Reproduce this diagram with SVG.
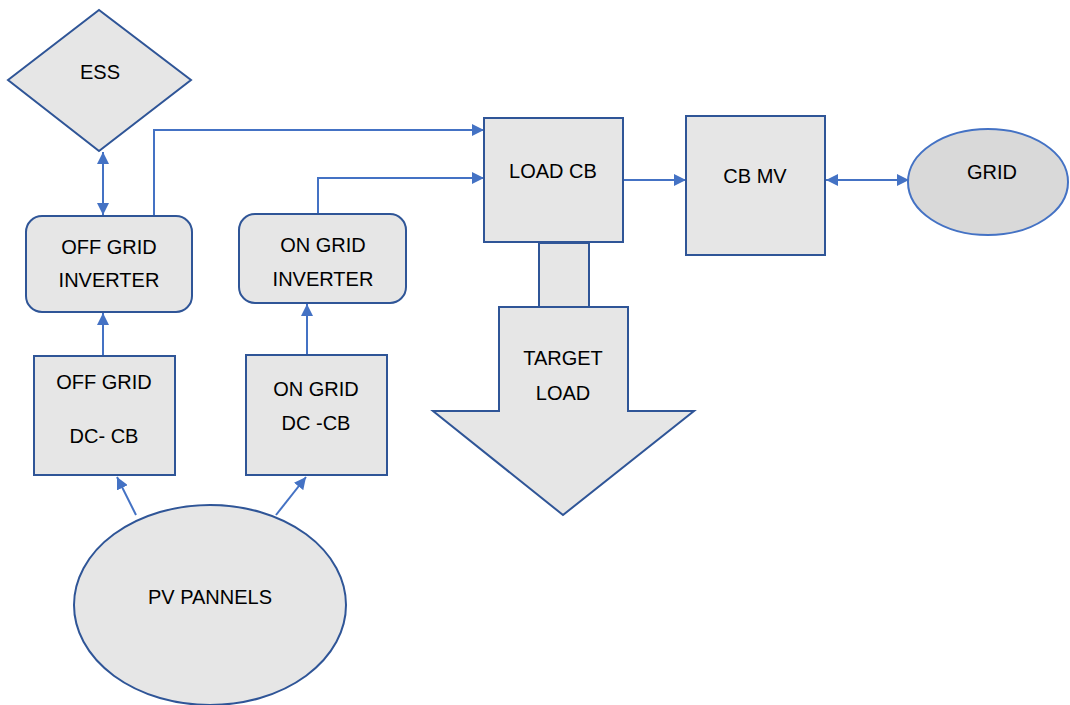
<svg xmlns="http://www.w3.org/2000/svg" width="1070" height="705" viewBox="0 0 1070 705">
<style>
.shape{fill:#e6e6e6;stroke:#2f5597;stroke-width:2}
.grid{fill:#d9d9d9;stroke:#4472c4;stroke-width:2}
.conn{fill:none;stroke:#4472c4;stroke-width:2}
text{font-family:"Liberation Sans",Arial,sans-serif;font-size:20px;fill:#000;text-anchor:middle;dominant-baseline:central}
</style>
<defs>
<marker id="ah" markerUnits="userSpaceOnUse" markerWidth="12" markerHeight="12" viewBox="0 0 12 12" refX="12" refY="6" orient="auto-start-reverse">
<path d="M0,0 L12,6 L0,12 Z" fill="#4472c4"/>
</marker>
</defs>
<g id="connectors">
<line class="conn" x1="103" y1="152" x2="103" y2="215" marker-start="url(#ah)" marker-end="url(#ah)"/>
<polyline class="conn" points="154,216 154,130 484,130" marker-end="url(#ah)"/>
<polyline class="conn" points="318,214 318,178 484,178" marker-end="url(#ah)"/>
<line class="conn" x1="103" y1="356" x2="103" y2="313" marker-end="url(#ah)"/>
<line class="conn" x1="307" y1="355" x2="307" y2="304" marker-end="url(#ah)"/>
<line class="conn" x1="623" y1="180" x2="686" y2="180" marker-end="url(#ah)"/>
<line class="conn" x1="826" y1="180" x2="909" y2="180" marker-start="url(#ah)" marker-end="url(#ah)"/>
<line class="conn" x1="136" y1="515" x2="117" y2="477" marker-end="url(#ah)"/>
<line class="conn" x1="276" y1="515" x2="306" y2="477" marker-end="url(#ah)"/>
</g>
<g id="ess">
<polygon class="shape" points="8,80 99,10 191,80 99,151"/>
<text x="100" y="72">ESS</text>
</g>
<g id="off-grid-inverter">
<rect class="shape" x="26" y="216" width="166" height="96" rx="16"/>
<text x="109" y="247">OFF GRID</text>
<text x="109" y="280">INVERTER</text>
</g>
<g id="on-grid-inverter">
<rect class="shape" x="239" y="214" width="167" height="89" rx="16"/>
<text x="323" y="245">ON GRID</text>
<text x="323" y="279">INVERTER</text>
</g>
<g id="off-grid-dc-cb">
<rect class="shape" x="34" y="356" width="141" height="119"/>
<text x="104" y="382">OFF GRID</text>
<text x="104" y="436">DC- CB</text>
</g>
<g id="on-grid-dc-cb">
<rect class="shape" x="246" y="355" width="141" height="120"/>
<text x="316" y="389">ON GRID</text>
<text x="316" y="423">DC -CB</text>
</g>
<g id="pv-pannels">
<ellipse class="shape" cx="210" cy="605" rx="136" ry="100"/>
<text x="210" y="597">PV PANNELS</text>
</g>
<g id="load-cb">
<rect class="shape" x="484" y="118" width="139" height="124"/>
<text x="553" y="171">LOAD CB</text>
</g>
<g id="target-load">
<rect class="shape" x="539" y="243" width="50" height="64"/>
<polygon class="shape" points="499,307 628,307 628,411 694,411 563,515 433,411 499,411"/>
<text x="563" y="358">TARGET</text>
<text x="563" y="393">LOAD</text>
</g>
<g id="cb-mv">
<rect class="shape" x="686" y="116" width="139" height="139"/>
<text x="755" y="176">CB MV</text>
</g>
<g id="grid">
<ellipse class="grid" cx="988" cy="182" rx="80" ry="53"/>
<text x="992" y="172">GRID</text>
</g>
</svg>
